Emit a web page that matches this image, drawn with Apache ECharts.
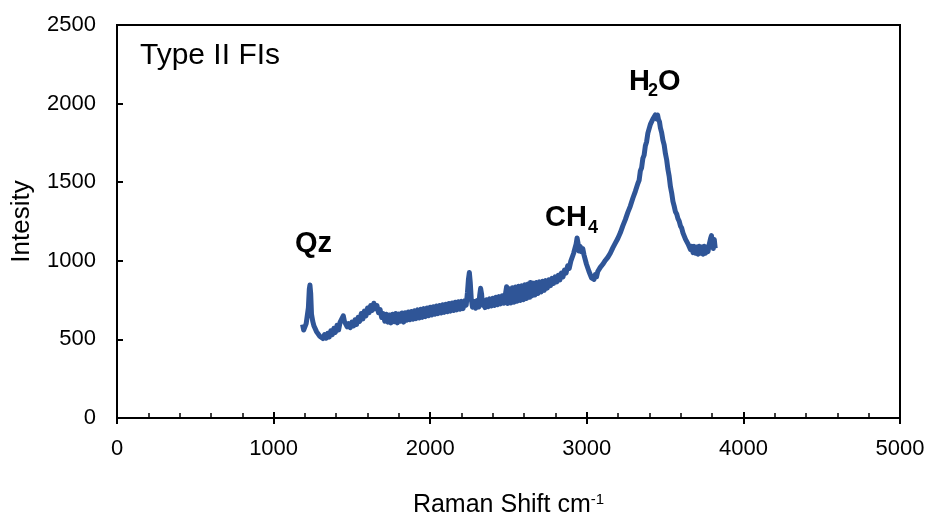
<!DOCTYPE html>
<html>
<head>
<meta charset="utf-8">
<script src="https://cdn.jsdelivr.net/npm/echarts@6/dist/echarts.min.js"></script>
<style>html,body{margin:0;padding:0;background:#fff}#c{width:931px;height:519px}</style>
</head>
<body>
<div id="c"></div>
<script>
// Raman shift (cm-1) sample positions
var shift = [
1185,1192,1200,1208,1215,1222,1228,1232,1237,1242,1250,1258,1266,1275,1285,1295,1305,1315,1325,1335,1345,1355,1365,1375,1385,1395,1405,
1415,1425,1435,1445,1452,1460,1470,1480,1490,1500,1510,1520,1530,1540,1550,1560,1570,1580,1590,1600,1610,1620,1630,1640,1650,
1660,1670,1680,1690,1700,1710,1720,1730,1740,1750,1760,1770,1780,1790,1800,1810,1820,1830,1840,1850,1860,1870,1880,1890,
1900,1910,1920,1930,1940,1950,1960,1970,1980,1990,2000,2010,2020,2030,2040,2050,2060,2070,2080,2090,
2100,2110,2120,2130,2140,2150,2160,2170,2180,2190,2200,2210,2220,2230,2238,2244,2250,2256,2262,2270,
2280,2290,2300,2310,2316,2322,2328,2334,2342,2350,2360,2370,2380,2390,2400,2410,2420,2430,2440,2450,
2460,2470,2480,2488,2495,2505,2515,2525,2535,2545,2555,2565,2575,2585,2595,2605,2615,2625,2635,2640,
2648,2658,2668,2678,2688,2698,2708,2718,2728,2738,2748,2758,2768,2778,2788,2798,2808,2818,2828,2838,
2848,2858,2868,2878,2888,2898,2908,2916,2924,2932,2938,2944,2950,2958,2966,2974,2982,2990,2998,3006,
3014,3022,3030,3038,3046,3054,3062,3070,3078,3086,3094,3102,3110,3118,3126,3134,3142,3150,3158,3166,
3174,3182,3190,3198,3206,3214,3222,3230,3238,3246,3254,3262,3270,3278,3286,3294,3302,3310,3318,3326,
3334,3342,3350,3358,3366,3374,3382,3390,3398,3406,3414,3422,3430,3438,3446,3452,3458,3464,3470,3478,
3486,3494,3502,3510,3518,3526,3534,3542,3550,3558,3566,3574,3582,3590,3598,3606,3614,3622,3630,3638,
3646,3654,3662,3670,3678,3686,3694,3702,3710,3718,3726,3734,3742,3750,3758,3766,3774,3782,3790,3796,
3802,3808,3814,3820];
// Intensity (same order as shift)
var intensity = [
595,560,580,600,610,700,820,846,790,660,615,585,575,548,545,520,528,505,530,508,538,515,555,530,570,545,590,
560,610,600,650,615,620,580,600,575,610,585,625,595,640,615,665,630,680,650,700,670,715,685,730,695,
715,670,690,640,665,615,660,610,655,605,660,612,665,605,662,615,668,610,670,622,674,625,678,628,
682,632,688,636,692,640,696,645,700,650,704,655,708,660,712,664,716,668,720,672,
724,676,728,680,732,684,736,688,740,692,742,696,745,718,800,880,925,860,760,705,
742,698,748,706,780,825,790,718,748,702,752,708,758,712,762,716,768,720,772,726,
778,730,784,835,728,822,732,828,736,834,742,838,748,842,752,848,760,852,768,862,
776,858,782,862,792,866,802,870,812,874,826,880,842,888,856,898,866,908,878,922,
898,942,922,968,952,998,1002,1048,1052,1108,1145,1112,1062,1092,1058,1078,1038,1028,978,968,
932,932,892,902,882,912,898,932,922,958,948,978,968,1002,992,1022,1012,1048,1042,1082,
1078,1112,1108,1142,1142,1178,1178,1222,1222,1262,1268,1308,1312,1348,1358,1398,1402,1442,1448,1492,
1512,1572,1592,1652,1672,1732,1758,1812,1822,1868,1868,1902,1892,1928,1902,1928,1898,1885,1845,1815,
1768,1738,1682,1642,1582,1538,1472,1432,1378,1348,1312,1298,1268,1252,1222,1208,1178,1168,1138,1132,
1108,1108,1072,1092,1052,1092,1048,1088,1042,1092,1048,1088,1042,1092,1048,1088,1058,1105,1140,1160,
1110,1078,1135,1080];
var xTicks = [0, 1000, 2000, 3000, 4000, 5000];
var yTicks = [0, 500, 1000, 1500, 2000, 2500];

var data = shift.map(function (s, i) { return [s, intensity[i]]; });
var FONT = '"Liberation Sans", Arial, sans-serif';
var chart = echarts.init(document.getElementById('c'), null, {renderer: 'canvas'});
var plain = function (v) { return String(v); };
var xBase = {
  type: 'value', min: xTicks[0], max: xTicks[xTicks.length - 1], interval: xTicks[1] - xTicks[0],
  splitLine: {show: false}
};
chart.setOption({
  animation: false,
  backgroundColor: '#fff',
  title: {
    text: 'Type II FIs', left: 140, top: 41, padding: 0,
    textStyle: {fontFamily: FONT, fontSize: 30, fontWeight: 'normal', color: '#000'}
  },
  grid: {left: 117, right: 31, top: 25, bottom: 101, show: true, borderColor: '#000', borderWidth: 2,
    backgroundColor: 'transparent', containLabel: false, outerBoundsMode: 'none'},
  xAxis: [
    Object.assign({}, xBase, {
      position: 'bottom',
      name: 'Raman Shift cm{sup|-1}', nameLocation: 'middle', nameGap: 74,
      nameTextStyle: {fontFamily: FONT, fontSize: 25, color: '#000',
        rich: {sup: {fontFamily: FONT, fontSize: 15, color: '#000', verticalAlign: 'top', padding: [0, 0, 12, 0]}}},
      axisLine: {show: true, lineStyle: {color: '#000', width: 2}},
      axisTick: {show: true, inside: true, length: 6, lineStyle: {color: '#000', width: 2}},
      minorTick: {show: true, splitNumber: 5, length: 5, lineStyle: {color: '#000', width: 1.5}},
      minorSplitLine: {show: false},
      axisLabel: {margin: 20, fontFamily: FONT, fontSize: 22, color: '#000', formatter: plain}
    }),
    Object.assign({}, xBase, {
      position: 'bottom',
      axisLine: {show: false},
      axisTick: {show: true, inside: false, length: 6, lineStyle: {color: '#000', width: 2}},
      axisLabel: {show: false}
    })
  ],
  yAxis: {
    type: 'value', min: yTicks[0], max: yTicks[yTicks.length - 1], interval: yTicks[1] - yTicks[0],
    name: 'Intesity', nameLocation: 'middle', nameGap: 82,
    nameTextStyle: {fontFamily: FONT, fontSize: 26, color: '#000'},
    splitLine: {show: false},
    axisLine: {show: true, lineStyle: {color: '#000', width: 2}},
    axisTick: {show: true, inside: true, length: 6, lineStyle: {color: '#000', width: 2}},
    axisLabel: {margin: 21, fontFamily: FONT, fontSize: 22, color: '#000', formatter: plain}
  },
  series: [{
    type: 'line', data: data, showSymbol: false, symbol: 'none', smooth: false,
    lineStyle: {color: '#2f5597', width: 5, join: 'round'},
    z: 3
  }],
  graphic: [
    {type: 'text', left: 295, top: 229, style: {text: 'Qz', fontFamily: FONT, fontSize: 29, fontWeight: 'bold', fill: '#000'}},
    {type: 'text', left: 545, top: 203, style: {text: 'CH', fontFamily: FONT, fontSize: 29, fontWeight: 'bold', fill: '#000'}},
    {type: 'text', left: 588, top: 219, style: {text: '4', fontFamily: FONT, fontSize: 18, fontWeight: 'bold', fill: '#000'}},
    {type: 'text', left: 629, top: 67, style: {text: 'H', fontFamily: FONT, fontSize: 29, fontWeight: 'bold', fill: '#000'}},
    {type: 'text', left: 648, top: 82, style: {text: '2', fontFamily: FONT, fontSize: 18, fontWeight: 'bold', fill: '#000'}},
    {type: 'text', left: 658, top: 67, style: {text: 'O', fontFamily: FONT, fontSize: 29, fontWeight: 'bold', fill: '#000'}}
  ]
});
</script>
</body>
</html>
